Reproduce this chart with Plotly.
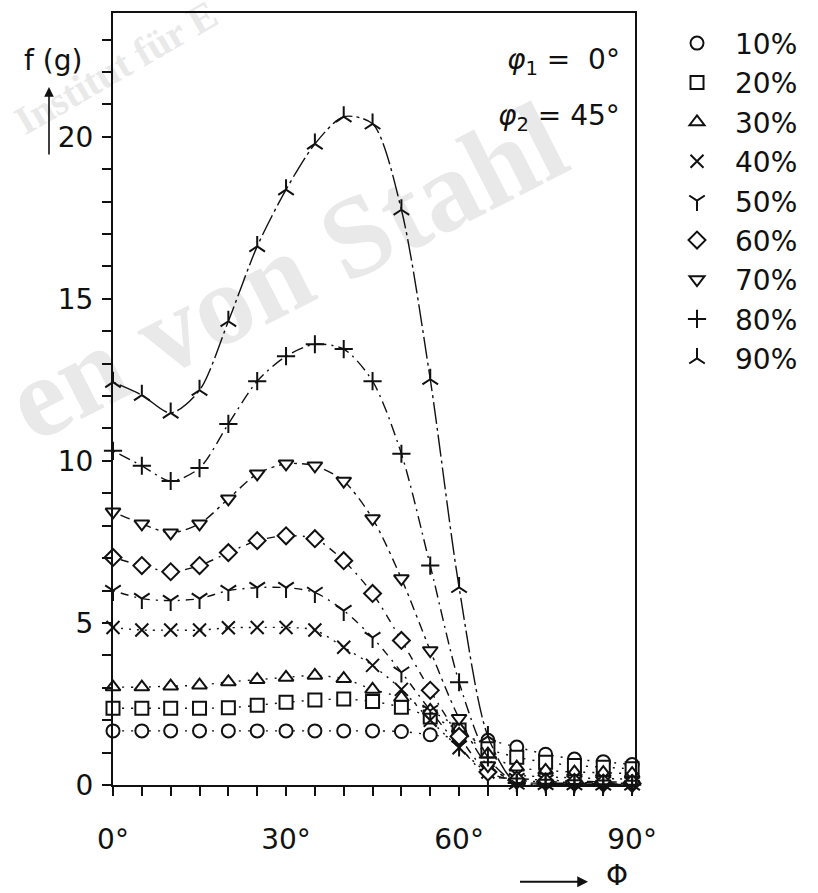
import plotly.graph_objects as go

# Orientation angle Phi (degrees), sampled every 5 degrees
phi = [0, 5, 10, 15, 20, 25, 30, 35, 40, 45, 50, 55, 60, 65, 70, 75, 80, 85, 90]

# f(g) for each rolling reduction level
f10 = [1.67, 1.67, 1.67, 1.67, 1.67, 1.67, 1.67, 1.67, 1.67, 1.67, 1.65, 1.55, 1.45, 1.38, 1.17, 0.95, 0.80, 0.72, 0.63]
f20 = [2.37, 2.37, 2.37, 2.37, 2.38, 2.46, 2.55, 2.62, 2.65, 2.58, 2.40, 2.10, 1.70, 1.12, 0.86, 0.70, 0.60, 0.55, 0.50]
f30 = [3.02, 3.02, 3.05, 3.08, 3.18, 3.25, 3.32, 3.38, 3.28, 2.95, 2.70, 2.30, 1.75, 0.95, 0.55, 0.45, 0.40, 0.38, 0.35]
f40 = [4.86, 4.78, 4.78, 4.78, 4.85, 4.86, 4.86, 4.78, 4.25, 3.69, 2.95, 2.00, 1.15, 0.40, 0.30, 0.25, 0.22, 0.20, 0.18]
f50 = [6.00, 5.75, 5.69, 5.75, 6.00, 6.09, 6.09, 5.94, 5.38, 4.55, 3.48, 2.30, 1.20, 0.30, 0.20, 0.15, 0.12, 0.10, 0.08]
f60 = [7.02, 6.77, 6.58, 6.77, 7.17, 7.54, 7.69, 7.60, 6.92, 5.91, 4.46, 2.92, 1.50, 0.40, 0.15, 0.10, 0.08, 0.06, 0.05]
f70 = [8.43, 8.06, 7.78, 8.06, 8.83, 9.60, 9.91, 9.85, 9.38, 8.22, 6.37, 4.15, 2.06, 0.60, 0.10, 0.06, 0.05, 0.04, 0.03]
f80 = [10.31, 9.85, 9.38, 9.78, 11.14, 12.46, 13.23, 13.60, 13.45, 12.46, 10.22, 6.77, 3.17, 0.85, 0.06, 0.04, 0.03, 0.02, 0.01]
f90 = [12.43, 12.03, 11.48, 12.18, 14.31, 16.62, 18.37, 19.78, 20.62, 20.40, 17.75, 12.52, 6.10, 1.50, 0.03, 0.02, 0.01, 0.00, 0.00]

labels = ["10%", "20%", "30%", "40%", "50%", "60%", "70%", "80%", "90%"]
series = [f10, f20, f30, f40, f50, f60, f70, f80, f90]
symbols = ["circle", "square", "triangle-up", "x-thin", "y-down",
           "diamond", "triangle-down", "cross-thin", "y-up"]
dashes = ["2px,7px", "2px,7px", "2px,7px", "2px,6px", "2px,6px,8px,6px",
          "2px,6px,8px,6px", "3px,5px,10px,5px", "2px,5px,12px,5px", "3px,4px,22px,4px"]

INK = "#111111"
FONT = "DejaVu Sans"

fig = go.Figure()

for name, ys, sym, dash in zip(labels, series, symbols, dashes):
    fig.add_trace(go.Scatter(
        x=phi, y=ys, mode="lines+markers", name=name, showlegend=False,
        cliponaxis=False,
        line=dict(color=INK, width=1.4, dash=dash, shape="spline", smoothing=0.8),
        marker=dict(symbol=sym, size=13, color="white",
                    line=dict(color=INK, width=2)),
    ))

# marker-only legend entries
for name, sym in zip(labels, symbols):
    fig.add_trace(go.Scatter(
        x=[None], y=[None], mode="markers", name=name,
        marker=dict(symbol=sym, size=13, color="white",
                    line=dict(color=INK, width=2)),
    ))

axis_common = dict(
    showline=True, linecolor=INK, linewidth=2, mirror=True,
    showgrid=False, zeroline=False,
    ticks="outside", ticklen=9, tickwidth=2, tickcolor=INK,
    tickfont=dict(family=FONT, size=28, color=INK),
)

fig.update_xaxes(
    range=[0, 90.5],
    tickvals=[0, 30, 60, 90], ticktext=["0°", "30°", "60°", "90°"],
    minor=dict(dtick=5, ticks="outside", ticklen=9, tickwidth=2, tickcolor=INK),
    ticklabelstandoff=19,
    **axis_common,
)
fig.update_yaxes(
    range=[0, 23.82],
    tickvals=[0, 5, 10, 15, 20],
    minor=dict(dtick=1, ticks="outside", ticklen=9, tickwidth=2, tickcolor=INK),
    ticklabelstandoff=3,
    **axis_common,
)

# faint background lettering
fig.add_shape(type="rect", xref="paper", yref="paper", layer="below",
              x0=0.02, x1=0.62, y0=0.58, y1=0.78,
              line=dict(width=0), fillcolor="rgba(0,0,0,0)",
              label=dict(text="<b>en von Stahl</b>", textangle=-27,
                         textposition="middle center",
                         font=dict(family="Liberation Serif", size=115, color="#e9e9e9")))
fig.add_shape(type="rect", xref="paper", yref="paper", layer="below",
              x0=-0.098, x1=0.102, y0=0.884, y1=0.984,
              line=dict(width=0), fillcolor="rgba(0,0,0,0)",
              label=dict(text="<b>Institut für E</b>", textangle=-30,
                         textposition="middle center",
                         font=dict(family="Liberation Serif", size=40, color="#e9e9e9")))

ann_font = dict(family=FONT, size=28, color=INK)
fig.add_annotation(xref="paper", yref="paper", x=0.975, y=0.937,
                   xanchor="right", yanchor="middle", showarrow=False,
                   text="<i>φ</i><sub>1</sub> =&nbsp;&nbsp;0°", font=ann_font)
fig.add_annotation(xref="paper", yref="paper", x=0.975, y=0.864,
                   xanchor="right", yanchor="middle", showarrow=False,
                   text="<i>φ</i><sub>2</sub> = 45°", font=ann_font)

# axis titles with arrows
fig.add_annotation(xref="paper", yref="paper", x=-0.115, y=0.939,
                   xanchor="center", yanchor="middle", showarrow=False,
                   text="f (g)", font=ann_font)
fig.add_annotation(xref="paper", yref="paper", x=-0.1226, y=0.904,
                   ax=0, ay=70, axref="pixel", ayref="pixel", text=" ",
                   showarrow=True, arrowhead=2, arrowsize=1.2, arrowwidth=1.6,
                   arrowcolor=INK, font=dict(size=2))
fig.add_annotation(xref="paper", yref="paper", x=0.91, y=-0.1253,
                   ax=-70, ay=0, axref="pixel", ayref="pixel", text=" ",
                   showarrow=True, arrowhead=2, arrowsize=1.2, arrowwidth=1.8,
                   arrowcolor=INK, font=dict(size=2))
fig.add_annotation(xref="paper", yref="paper", x=0.965, y=-0.117,
                   xanchor="center", yanchor="middle", showarrow=False,
                   text="Φ", font=ann_font)

fig.update_layout(
    width=818, height=893,
    margin=dict(l=113, r=183, t=11, b=108),
    paper_bgcolor="white", plot_bgcolor="rgba(0,0,0,0)",
    font=dict(family=FONT, size=28, color=INK),
    legend=dict(x=1.046, xanchor="left", y=0.993, yanchor="top",
                font=dict(family=FONT, size=28, color=INK),
                itemwidth=66, bgcolor="rgba(0,0,0,0)", borderwidth=0,
                tracegroupgap=0),
)

fig.write_html("out.html")
